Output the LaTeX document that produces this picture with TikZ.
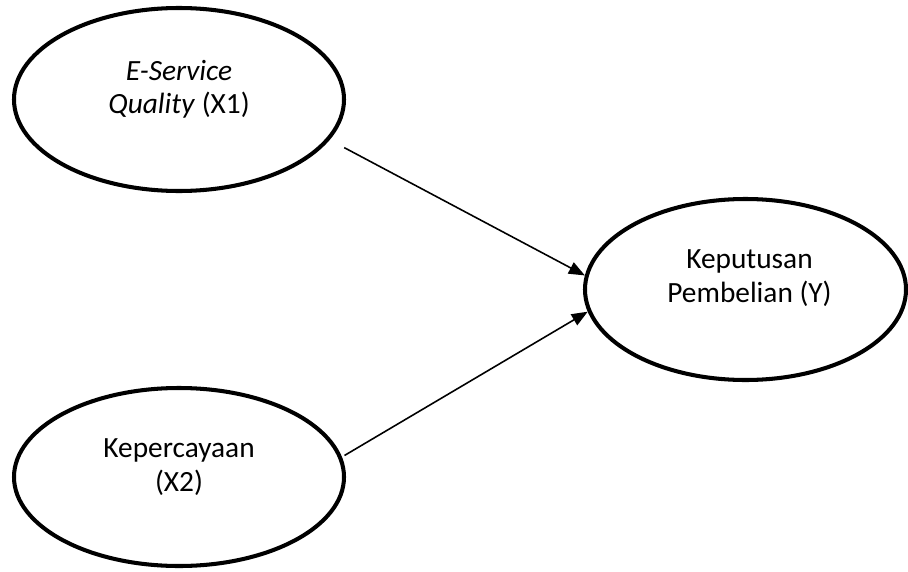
\documentclass[tikz,border=0pt]{standalone}
\usepackage{fontspec}
\setmainfont{Carlito}
\usetikzlibrary{arrows.meta,shapes.geometric}

\tikzset{
  varbox/.style={draw, ellipse, line width=2.3pt, minimum width=6.6cm, minimum height=3.6cm, inner sep=0pt},
  texto/.style={align=center, font=\fontsize{16.7}{19}\selectfont, yshift=0.2cm},
  flecha/.style={-{Triangle[length=0.32cm,width=0.25cm]}, line width=0.9pt}
}

\begin{document}
\begin{tikzpicture}
  \useasboundingbox (0,0) rectangle (18.16,11.42);

  % Variables independientes
  \node[varbox, minimum height=3.66cm, label={[texto]center:{\textit{E-Service}\\\textit{Quality} (X1)}}] (x1) at (3.58,9.43) {};
  \node[varbox, minimum height=3.56cm, label={[texto]center:{Kepercayaan\\(X2)}}] (x2) at (3.58,1.88) {};

  % Variable dependiente
  \node[varbox, minimum width=6.42cm, minimum height=3.62cm, label={[texto, xshift=0.08cm, yshift=0.03cm]center:{Keputusan\\Pembelian (Y)}}] (y) at (14.91,5.63) {};

  % Relaciones
  \draw[flecha, shorten <=0.33cm] (x1.-15) -- (y.175);
  \draw[flecha, shorten <=0.06cm] (x2.7) -- (y.188);
\end{tikzpicture}
\end{document}
